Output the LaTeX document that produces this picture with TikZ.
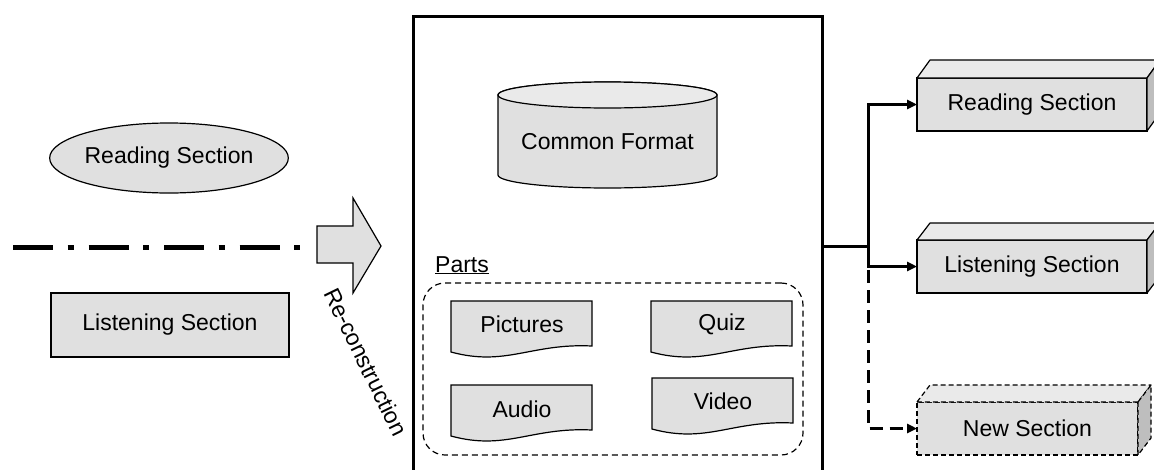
\documentclass[tikz,border=0pt]{standalone}
\usepackage{fontspec}
\setmainfont{Liberation Sans}
\usetikzlibrary{shapes.geometric,arrows.meta}
\definecolor{boxgray}{RGB}{224,224,224}
\definecolor{topgray}{RGB}{234,234,234}
\definecolor{sidegray}{RGB}{190,190,190}
\begin{document}
\begin{tikzpicture}[x=1pt,y=-1pt,
  font=\fontsize{23}{27}\selectfont,
  gfill/.style={fill=boxgray,draw=black,line width=1.2pt},
  topf/.style={fill=topgray,draw=black,line width=1.2pt,line join=round},
  sidef/.style={fill=sidegray,draw=black,line width=1.2pt,line join=round},
  frontbox/.style={rectangle,gfill,inner sep=0pt,outer sep=0pt,minimum width=230pt,minimum height=53pt},
  conn/.style={line width=3pt,-{Triangle[length=10pt,width=9pt]}},
  dsh/.style={dash pattern=on 5pt off 3pt},
  docpart/.pic={\filldraw[gfill] (0,0) -- (141,0) -- (141,45) .. controls (80,42) and (55,66) .. (0,51) -- cycle;}
]
\useasboundingbox (0,0) rectangle (1154,469);

% left side
\node[ellipse,gfill,inner sep=0pt,minimum width=238pt,minimum height=70pt] (rdl) at (169,158) {Reading Section};
\coordinate (dl) at (13,247);
\coordinate (dr) at (300,247);
\draw[line width=5pt,dash pattern=on 40pt off 14.5pt on 6pt off 15pt] (dl) -- (dr);
\node[rectangle,gfill,inner sep=0pt,minimum width=238pt,minimum height=64pt] (lsl) at (170,325) {Listening Section};

% block arrow
\filldraw[gfill] (317,226) -- (353,226) -- (353,198) -- (381,246) -- (353,293) -- (353,263) -- (317,263) -- cycle;
\node[rotate=-64] (rc) at (366,362) {Re-construction};

% main box
\draw[line width=3pt] (413,472) -- (413,16) -- (822,16) -- (822,472);

% cylinder
\filldraw[gfill] (498,95) -- (498,175) arc[start angle=180,end angle=0,x radius=109.5,y radius=13] -- (717,95) arc[start angle=0,end angle=-180,x radius=109.5,y radius=13] -- cycle;
\filldraw[topf] (607.5,95) ellipse[x radius=109.5,y radius=13];
\node (cf) at (607.5,142) {Common Format};

% parts
\node[anchor=base west,inner sep=0pt] (parts) at (435,272) {\underline{Parts}};
\node[draw,line width=1.2pt,dash pattern=on 6pt off 4pt,rounded corners=22pt,minimum width=380pt,minimum height=172pt] (pg) at (613,369) {};
\pic at (451,301) {docpart};
\pic at (651,301) {docpart};
\pic at (451,385) {docpart};
\pic at (652,378) {docpart};
\node (pict) at (522,324) {Pictures};
\node (quiz) at (722,324) {Quiz};
\node (audio) at (522,409) {Audio};
\node (video) at (723,401) {Video};

% right 3D boxes
\node[frontbox] (rs) at (1032,104.5) {Reading Section};
\filldraw[topf] (rs.north west) -- ++(13,-18) -- ++(230,0) -- (rs.north east) -- cycle;
\filldraw[sidef] (rs.north east) -- ++(13,-18) -- ++(0,53) -- (rs.south east) -- cycle;

\node[frontbox] (ls) at (1032,266.5) {Listening Section};
\filldraw[topf] (ls.north west) -- ++(13,-17) -- ++(230,0) -- (ls.north east) -- cycle;
\filldraw[sidef] (ls.north east) -- ++(13,-17) -- ++(0,53) -- (ls.south east) -- cycle;

\node[frontbox,dsh,minimum width=221pt] (ns) at (1027.5,428.5) {New Section};
\filldraw[topf,dsh] (ns.north west) -- ++(13,-17) -- ++(221,0) -- (ns.north east) -- cycle;
\filldraw[sidef,dsh] (ns.north east) -- ++(13,-17) -- ++(0,53) -- (ns.south east) -- cycle;

% connectors
\coordinate (mr) at (822,246);
\coordinate (j) at (868,246);
\coordinate (jd) at (868,270);
\draw[line width=3pt] (mr) -- (j);
\draw[conn] (j) |- (rs.west);
\draw[conn] (j) |- (ls.west);
\draw[conn,dash pattern=on 13pt off 7pt] (jd) |- (ns.west);
\end{tikzpicture}
\end{document}
